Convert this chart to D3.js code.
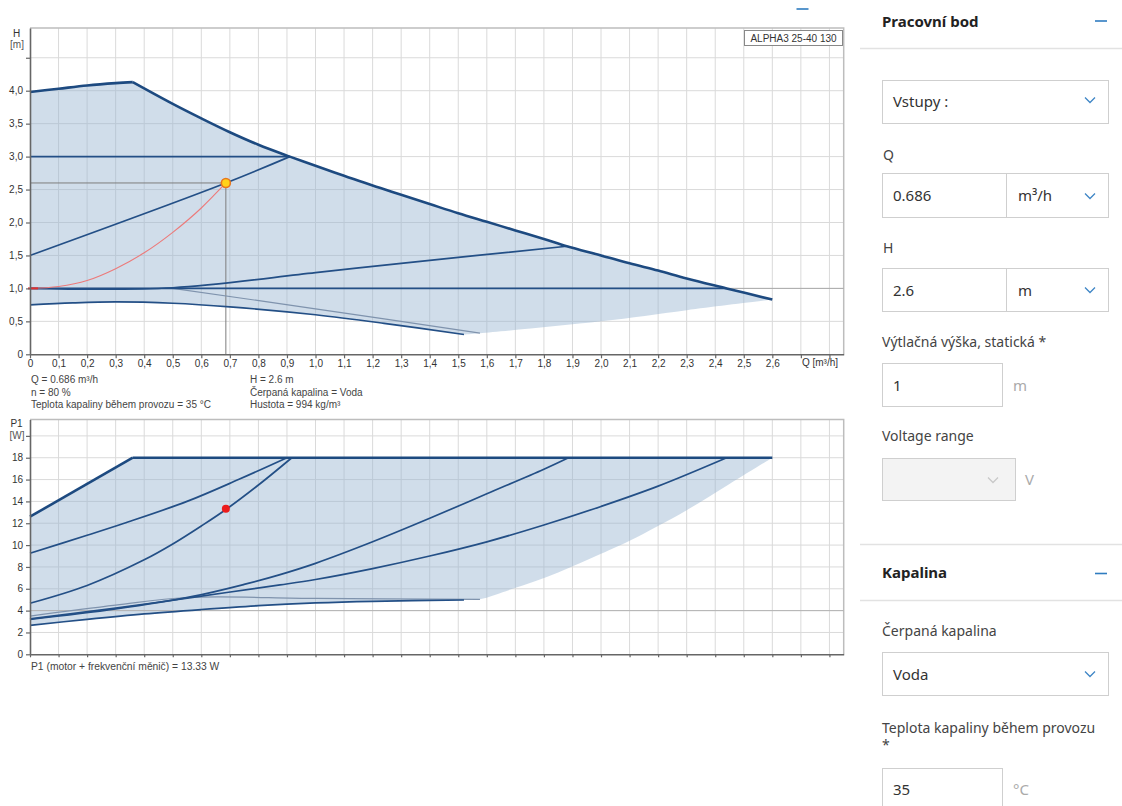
<!DOCTYPE html>
<html><head><meta charset="utf-8">
<script src="https://cdn.jsdelivr.net/npm/d3@7/dist/d3.min.js"></script>
<style>
body{margin:0;background:#fff;}
svg{display:block;}
.ch text{font-family:"Liberation Sans",Arial,sans-serif;}
.ui text{font-family:"Noto Sans","Open Sans",sans-serif;}
</style>
</head><body>
<svg id="c" width="1122" height="806"></svg>
<script>
// ---------- DATA ----------
const qTickValues = [0,0.1,0.2,0.3,0.4,0.5,0.6,0.7,0.8,0.9,1.0,1.1,1.2,1.3,1.4,1.5,1.6,1.7,1.8,1.9,2.0,2.1,2.2,2.3,2.4,2.5,2.6,2.7,2.8];
const qTickLabels = ["0","0,1","0,2","0,3","0,4","0,5","0,6","0,7","0,8","0,9","1,0","1,1","1,2","1,3","1,4","1,5","1,6","1,7","1,8","1,9","2,0","2,1","2,2","2,3","2,4","2,5","2,6","",""];
const hTickValues = [0,0.5,1.0,1.5,2.0,2.5,3.0,3.5,4.0,4.5];
const hTickLabels = ["0","0,5","1,0","1,5","2,0","2,5","3,0","3,5","4,0",""];
const pTickValues = [0,2,4,6,8,10,12,14,16,18,20];
const pTickLabels = ["0","2","4","6","8","10","12","14","16","18",""];

// H(Q) curves [Q m3/h, H m]
const hMaxRise = [[0,3.98],[0.1,4.03],[0.2,4.08],[0.3,4.115],[0.36,4.13]];
const hMaxFall = [[0.36,4.13],[0.5,3.80],[0.6,3.58],[0.7,3.37],[0.8,3.18],[0.91,3.0],[1.0,2.86],[1.1,2.71],[1.2,2.56],[1.3,2.42],[1.4,2.28],[1.5,2.14],[1.6,2.01],[1.7,1.88],[1.8,1.75],[1.88,1.64],[2.0,1.50],[2.1,1.38],[2.2,1.27],[2.3,1.15],[2.44,1.0],[2.6,0.83]];
const hConst3 = [[0,3.0],[0.91,3.0]];
const hProp3 = [[0,1.5],[0.686,2.6],[0.91,3.0]];
const hConst1 = [[0,1.0],[2.44,1.0]];
const hProp1 = [[0,1.0],[0.5,1.01],[1.0,1.24],[1.3,1.38],[1.88,1.64]];
const hMinSpeed = [[0.5,1.0],[1.0,0.69],[1.576,0.32]];
const hMin = [[0,0.75],[0.15,0.78],[0.3,0.795],[0.5,0.775],[0.7,0.72],[1.0,0.60],[1.24,0.47],[1.52,0.30]];
const hEdge = [[1.52,0.30],[1.576,0.32],[2.0,0.50],[2.3,0.67],[2.6,0.83]];
const systemCurve = [[0,1.0],[0.1,1.03],[0.2,1.12],[0.3,1.30],[0.4,1.54],[0.5,1.85],[0.6,2.22],[0.686,2.6]];
const dutyQ = 0.686, dutyH = 2.6, dutyP = 13.33, staticH = 1.0;

// P1(Q) curves [Q m3/h, P1 W]
const pMaxRise = [[0,12.6],[0.36,18]];
const pMaxFlat = [[0.36,18],[2.6,18]];
const pConst3 = [[0,9.25],[0.2,10.9],[0.33,12],[0.55,14],[0.73,16],[0.9,18]];
const pProp3 = [[0,4.67],[0.2,6.3],[0.4,8.65],[0.5,10.1],[0.6,11.75],[0.69,13.33],[0.8,15.5],[0.917,18]];
const pProp1 = [[0,3.2],[0.3,4.15],[0.57,5.3],[0.75,6.4],[0.876,7.3],[1.0,8.33],[1.2,10.3],[1.4,12.45],[1.6,14.7],[1.8,16.95],[1.886,18]];
const pConst1 = [[0,3.25],[0.3,4.22],[0.57,5.22],[0.876,6.35],[1.0,6.85],[1.2,7.85],[1.4,9.0],[1.6,10.3],[1.8,11.84],[2.0,13.54],[2.2,15.4],[2.44,18]];
const pMinSpeed = [[0,3.5],[0.3,4.5],[0.55,5.2],[1.0,5.12],[1.576,5.03]];
const pMin = [[0,2.65],[0.2,3.2],[0.4,3.7],[0.6,4.1],[0.8,4.45],[1.0,4.7],[1.2,4.85],[1.52,4.97]];
const pEdge = [[1.52,4.97],[1.576,5.05],[1.69,6.0],[1.85,7.5],[2.0,9.2],[2.1,10.4],[2.3,13.2],[2.45,15.6],[2.6,18]];

const infoLeft = ["Q = 0.686 m³/h","n = 80 %","Teplota kapaliny během provozu = 35 °C"];
const infoRight = ["H = 2.6 m","Čerpaná kapalina = Voda","Hustota = 994 kg/m³"];
const powerNote = "P1 (motor + frekvenční měnič) = 13.33 W";
const pumpName = "ALPHA3 25-40 130";

// ---------- DRAW ----------
const svg = d3.select("#c");
svg.append("rect").attr("width",1122).attr("height",806).attr("fill","#fff");
const ch = svg.append("g").attr("class","ch");

const x = d3.scaleLinear().domain([0,2.85]).range([30,843.7]);
const yH = d3.scaleLinear().domain([0,4.95]).range([354.3,28.1]);
const yP = d3.scaleLinear().domain([0,21.5]).range([654.3,419.5]);

const qGrid = qTickValues.filter(v=>v>0);
const shade = "rgba(150,180,208,0.45)";
const blue = "#234f86";

function grid(y, yVals){
  const g = ch.append("g");
  g.selectAll(".v").data(qGrid).join("line")
    .attr("x1",d=>x(d)).attr("x2",d=>x(d)).attr("y1",y.range()[0]).attr("y2",y.range()[1])
    .attr("stroke","#dadada").attr("stroke-width",1);
  g.selectAll(".h").data(yVals).join("line")
    .attr("x1",x.range()[0]).attr("x2",x.range()[1]).attr("y1",d=>y(d)).attr("y2",d=>y(d))
    .attr("stroke","#dadada").attr("stroke-width",1);
  g.append("path").attr("d",`M${x.range()[0]},${y.range()[1]}H${x.range()[1]}V${y.range()[0]}`)
    .attr("fill","none").attr("stroke","#bdbdbd").attr("stroke-width",1.5);
}
grid(yH, hTickValues.filter(v=>v>0));
grid(yP, pTickValues.filter(v=>v>0));

function lineGen(y){ return d3.line().x(d=>x(d[0])).y(d=>y(d[1])).curve(d3.curveCatmullRom.alpha(0.5)); }
const lH = lineGen(yH), lP = lineGen(yP);
const cont = s => s.replace(/^M/,"L");

// shading
ch.append("path").attr("d",
  lH(hMaxRise)+cont(lH(hMaxFall))+cont(lH(hEdge.slice().reverse()))+cont(lH(hMin.slice().reverse()))+"Z")
  .attr("fill",shade).attr("stroke","none");
ch.append("path").attr("d",
  lP(pMaxRise)+cont(lP(pMaxFlat))+cont(lP(pEdge.slice().reverse()))+cont(lP(pMin.slice().reverse()))+"Z")
  .attr("fill",shade).attr("stroke","none");

// static head line + 4 W line (darker grid)
ch.append("line").attr("x1",x.range()[0]).attr("x2",x.range()[1]).attr("y1",yH(staticH)).attr("y2",yH(staticH))
  .attr("stroke","#ababab").attr("stroke-width",1);
ch.append("line").attr("x1",x.range()[0]).attr("x2",x.range()[1]).attr("y1",yP(4)).attr("y2",yP(4))
  .attr("stroke","#b3b3b3").attr("stroke-width",1);

// duty point guides
ch.append("path").attr("d",`M${x(0)},${yH(dutyH)}H${x(dutyQ)}V${yH(0)}`)
  .attr("fill","none").attr("stroke","#7d7d7d").attr("stroke-width",1);

// thin min speed lines
[[hMinSpeed,lH],[pMinSpeed,lP]].forEach(([d,l])=>{
  ch.append("path").attr("d",l(d)).attr("fill","none").attr("stroke","#7f93ad").attr("stroke-width",1.2);
});
// curves
[hConst3,hProp3,hConst1,hProp1,hMin].forEach(d=>{
  ch.append("path").attr("d",lH(d)).attr("fill","none").attr("stroke",blue).attr("stroke-width",1.7);
});
[pConst3,pProp3,pProp1,pConst1,pMin].forEach(d=>{
  ch.append("path").attr("d",lP(d)).attr("fill","none").attr("stroke",blue).attr("stroke-width",1.7);
});
[hMaxRise,hMaxFall].forEach(d=>{
  ch.append("path").attr("d",lH(d)).attr("fill","none").attr("stroke","#1d4a80").attr("stroke-width",2.6).attr("stroke-linejoin","round");
});
[pMaxRise,pMaxFlat].forEach(d=>{
  ch.append("path").attr("d",lP(d)).attr("fill","none").attr("stroke","#1d4a80").attr("stroke-width",2.6).attr("stroke-linejoin","round");
});
// system curve
ch.append("path").attr("d",d3.line().x(d=>x(d[0])).y(d=>yH(d[1])).curve(d3.curveMonotoneX)(systemCurve))
  .attr("fill","none").attr("stroke","#ec7a7a").attr("stroke-width",1.1);
ch.append("line").attr("x1",x(0)-2).attr("x2",x(0)+8).attr("y1",yH(1.0)).attr("y2",yH(1.0)).attr("stroke","#e03030").attr("stroke-width",2);

// duty points
ch.append("circle").attr("cx",x(dutyQ)).attr("cy",yH(dutyH)).attr("r",4.5)
  .attr("fill","#ffd21a").attr("stroke","#e8761c").attr("stroke-width",1.6);
ch.append("circle").attr("cx",x(dutyQ)).attr("cy",yP(dutyP)).attr("r",4)
  .attr("fill","#ec1c1c");

// axes
function styleAxis(g){
  g.select(".domain").attr("stroke","#666").attr("stroke-width",1.6);
  g.selectAll(".tick line").attr("stroke","#666").attr("stroke-width",1.2);
  g.selectAll(".tick text").attr("fill","#333").attr("font-size","10px").attr("font-family","Liberation Sans, Arial, sans-serif");
}
const axH = ch.append("g").attr("transform",`translate(${x(0)},0)`)
  .call(d3.axisLeft(yH).tickValues(hTickValues).tickSize(4).tickSizeOuter(0).tickFormat((d,i)=>hTickLabels[i]));
styleAxis(axH);
const axQ = ch.append("g").attr("transform",`translate(0,${yH(0)})`)
  .call(d3.axisBottom(x).tickValues(qTickValues).tickSize(4).tickSizeOuter(0).tickFormat((d,i)=>qTickLabels[i]));
styleAxis(axQ);
axQ.selectAll(".tick text").attr("y",6);
const axP = ch.append("g").attr("transform",`translate(${x(0)},0)`)
  .call(d3.axisLeft(yP).tickValues(pTickValues).tickSize(4).tickSizeOuter(0).tickFormat((d,i)=>pTickLabels[i]));
styleAxis(axP);
const axQ2 = ch.append("g").attr("transform",`translate(0,${yP(0)})`)
  .call(d3.axisBottom(x).tickValues(qTickValues).tickSize(3).tickSizeOuter(0).tickFormat(""));
styleAxis(axQ2);

// axis titles
const tt = (t,xx,yy,opt={})=>ch.append("text").attr("x",xx).attr("y",yy).text(t)
  .attr("font-size",opt.fs||"10px").attr("fill",opt.fill||"#333").attr("text-anchor",opt.anchor||"start");
tt("H",16.5,37,{anchor:"middle"});
tt("[m]",17,48,{anchor:"middle",fill:"#555"});
tt("P1",16.5,427,{anchor:"middle"});
tt("[W]",17,439,{anchor:"middle",fill:"#555"});
tt("Q [m³/h]",820,366,{anchor:"middle"});

// pump name box
ch.append("rect").attr("x",744.5).attr("y",30.5).attr("width",98).attr("height",15)
  .attr("fill","#fff").attr("stroke","#888").attr("stroke-width",1);
tt(pumpName,793.5,41.5,{anchor:"middle",fs:"10px"});

// info text
infoLeft.forEach((t,i)=>tt(t,31,383+i*12.6,{fill:"#444"}));
infoRight.forEach((t,i)=>tt(t,250,383+i*12.6,{fill:"#444"}));
tt(powerNote,31,670,{fill:"#444",fs:"10.3px"});

// ---------- RIGHT PANEL ----------
const ui = svg.append("g").attr("class","ui");
const T = (t,xx,yy,opt={})=>ui.append("text").attr("x",xx).attr("y",yy).text(t)
  .attr("font-size",opt.fs||"14px").attr("fill",opt.fill||"#333").attr("font-weight",opt.fw||"normal");
const box = (x0,y0,w,h,fill)=>ui.append("rect").attr("x",x0+0.5).attr("y",y0+0.5).attr("width",w).attr("height",h)
  .attr("fill",fill||"#fff").attr("stroke","#cfcfcf").attr("stroke-width",1);
const chev = (cx,cy,col)=>ui.append("path").attr("d",`M${cx-5},${cy-2.5}L${cx},${cy+2.5}L${cx+5},${cy-2.5}`)
  .attr("fill","none").attr("stroke",col||"#3f86c6").attr("stroke-width",1.3);
const minus = (cx,cy)=>ui.append("line").attr("x1",cx-6).attr("x2",cx+6).attr("y1",cy).attr("y2",cy)
  .attr("stroke","#2f7cc0").attr("stroke-width",1.6);
const sep = yy=>ui.append("line").attr("x1",860).attr("x2",1122).attr("y1",yy).attr("y2",yy).attr("stroke","#e2e2e2").attr("stroke-width",1.5);

minus(802.5,9);
T("Pracovní bod",882,27,{fs:"15px",fw:"bold",fill:"#222"});
minus(1101,21);
sep(48.5);
box(882,80,226,43); T("Vstupy :",893,107,{fs:"15px"}); chev(1090,100);
T("Q",883,160,{fill:"#444"});
box(882,173,124,44); box(1006,173,102,44);
T("0.686",893,201,{fs:"15px"}); T("m³/h",1018,201,{fs:"15px"}); chev(1090,196);
T("H",883,253,{fill:"#444"});
box(882,268,124,43); box(1006,268,102,43);
T("2.6",893,296,{fs:"15px"}); T("m",1018,296,{fs:"15px"}); chev(1090,290);
T("Výtlačná výška, statická *",882,347,{fill:"#444"});
box(882,363,120,43); T("1",893,391,{fs:"15px"}); T("m",1013,391,{fill:"#aaa",fs:"15px"});
T("Voltage range",882,441,{fill:"#444"});
box(882,458,133,42,"#f3f3f3"); chev(993,480,"#c8c8c8"); T("V",1025,485,{fill:"#aaa",fs:"15px"});
sep(544.5);
T("Kapalina",882,578,{fs:"15px",fw:"bold",fill:"#222"});
minus(1101,573.5);
sep(600.5);
T("Čerpaná kapalina",882,636,{fill:"#444"});
box(882,652,226,43); T("Voda",893,680,{fs:"15px"}); chev(1090,674);
T("Teplota kapaliny během provozu",882,733,{fill:"#444"});
T("*",882,750,{fill:"#444"});
box(882,768,120,45); T("35",893,795,{fs:"15px"}); T("°C",1013,795,{fill:"#aaa",fs:"15px"});
</script>
</body></html>
